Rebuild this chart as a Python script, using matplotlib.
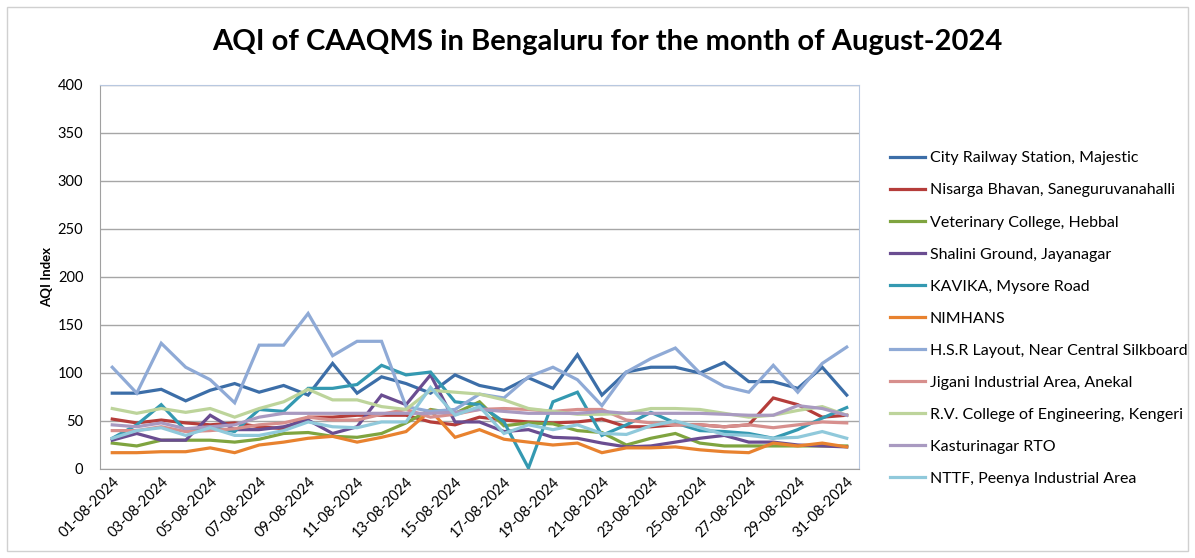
import matplotlib.pyplot as plt
from matplotlib.patches import Rectangle

plt.rcParams['font.family'] = ['Lato', 'DejaVu Sans']

dates = [f"{d:02d}-08-2024" for d in range(1, 32)]

stations = [
    "City Railway Station, Majestic",
    "Nisarga Bhavan, Saneguruvanahalli",
    "Veterinary College, Hebbal",
    "Shalini Ground, Jayanagar",
    "KAVIKA, Mysore Road",
    "NIMHANS",
    "H.S.R Layout, Near Central Silkboard",
    "Jigani Industrial Area, Anekal",
    "R.V. College of Engineering, Kengeri",
    "Kasturinagar RTO",
    "NTTF, Peenya Industrial Area",
]

majestic = [79, 79, 83, 71, 82, 89, 80, 87, 77, 110, 79, 96, 89, 79, 98, 87, 82, 95, 84, 119,
            77, 101, 106, 106, 100, 111, 91, 91, 84, 106, 77]
nisarga = [52, 48, 51, 48, 46, 48, 44, 42, 54, 54, 56, 56, 56, 49, 46, 54, 51, 49, 48, 49,
           52, 44, 44, 46, 46, 44, 46, 74, 67, 54, 56]
hebbal = [27, 24, 30, 30, 30, 28, 31, 37, 38, 34, 33, 37, 48, 62, 58, 70, 45, 48, 47, 40,
          38, 25, 32, 37, 27, 24, 24, 24, 24, 24, 24]
jayanagar = [30, 37, 30, 30, 56, 41, 41, 44, 51, 37, 44, 77, 67, 98, 49, 49, 39, 41, 33, 32,
             27, 23, 24, 28, 32, 35, 28, 28, 25, 24, 23]
kavika = [32, 46, 67, 40, 44, 39, 62, 60, 84, 84, 88, 108, 98, 101, 70, 67, 49, 1, 70, 80,
          35, 46, 59, 48, 40, 39, 37, 32, 41, 53, 64]
nimhans = [17, 17, 18, 18, 22, 17, 25, 28, 32, 34, 28, 33, 39, 61, 33, 41, 31, 28, 25, 27,
           17, 22, 22, 23, 20, 18, 17, 27, 24, 27, 23]
hsr = [106, 79, 131, 106, 93, 69, 129, 129, 162, 118, 133, 133, 65, 60, 62, 78, 74, 96, 106, 93,
       66, 101, 115, 126, 100, 86, 80, 108, 80, 110, 127]
jigani = [40, 40, 44, 39, 40, 42, 46, 48, 54, 51, 51, 57, 62, 54, 57, 62, 63, 62, 60, 62,
          62, 51, 48, 46, 46, 44, 46, 43, 46, 49, 48]
rv_college = [63, 58, 63, 59, 63, 54, 63, 70, 83, 72, 72, 65, 62, 82, 80, 78, 72, 63, 60, 57,
              57, 58, 63, 63, 62, 58, 54, 56, 61, 65, 56]
kasturinagar = [46, 44, 48, 42, 44, 46, 54, 58, 58, 58, 58, 58, 58, 58, 59, 62, 60, 58, 58, 58,
                60, 58, 58, 58, 58, 57, 56, 56, 66, 63, 56]
nttf = [32, 40, 43, 35, 43, 35, 35, 40, 49, 44, 43, 49, 49, 85, 56, 65, 37, 46, 41, 46,
        37, 36, 45, 50, 43, 36, 35, 32, 33, 39, 32]

series = [majestic, nisarga, hebbal, jayanagar, kavika, nimhans, hsr, jigani, rv_college,
          kasturinagar, nttf]
colors = ["#3C6EA8", "#B53D3A", "#7FA43F", "#6A4D91", "#3499B1", "#E8822F",
          "#8FAAD6", "#D78F8D", "#BDD49B", "#A99AC1", "#90C9DB"]

fig = plt.figure(figsize=(11.95, 5.58), dpi=100)
ax = fig.add_axes([0.0837, 0.1595, 0.6351, 0.6882])

x = list(range(len(dates)))
for name, vals, c in zip(stations, series, colors):
    ax.plot(x, vals, color=c, lw=2.3, label=name, solid_joinstyle='miter')

ax.set_xlim(-0.5, 30.5)
ax.set_ylim(0, 400)
ax.set_yticks(range(0, 401, 50))
ax.set_xticks(x[::2])
ax.set_xticklabels(dates[::2], rotation=45, ha='right', rotation_mode='anchor', fontsize=10.5)
ax.tick_params(axis='y', labelsize=10.5, length=0, pad=12)
ax.tick_params(axis='x', length=0, pad=4)
ax.yaxis.grid(True, color='#a6a6a6', lw=1.0)
ax.set_axisbelow(True)
for s in ['left', 'bottom']:
    ax.spines[s].set_color('#a0a0a0')
for s in ['top', 'right']:
    ax.spines[s].set_color('#b8c8e0')
ax.set_ylabel("AQI Index", fontsize=9.5, fontweight='bold', labelpad=3)

fig.suptitle("AQI of CAAQMS in Bengaluru for the month of August-2024", x=0.508, y=0.948,
             fontsize=21, fontweight='bold')

ax.legend(loc='upper left', bbox_to_anchor=(1.022, 0.865), frameon=False, fontsize=11.5,
          handlelength=2.2, handletextpad=0.3, labelspacing=1.12)

fig.patches.append(Rectangle((0.006, 0.012), 0.988, 0.976, transform=fig.transFigure,
                             fill=False, edgecolor='#d0d0d0', lw=1))

fig.savefig("out.png", dpi=100)
